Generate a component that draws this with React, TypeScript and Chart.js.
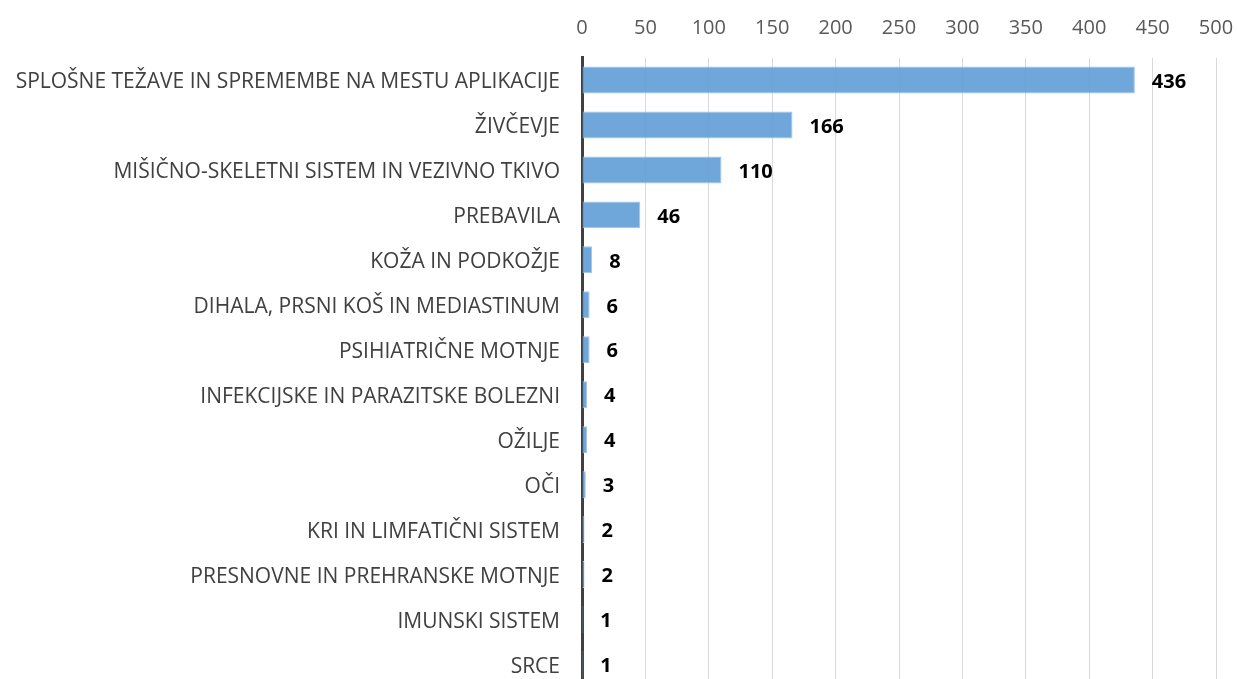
import React, { useEffect, useRef } from "react";
import { Chart, registerables } from "chart.js";

Chart.register(...registerables);

const categories = [
  "SPLOŠNE TEŽAVE IN SPREMEMBE NA MESTU APLIKACIJE",
  "ŽIVČEVJE",
  "MIŠIČNO-SKELETNI SISTEM IN VEZIVNO TKIVO",
  "PREBAVILA",
  "KOŽA IN PODKOŽJE",
  "DIHALA, PRSNI KOŠ IN MEDIASTINUM",
  "PSIHIATRIČNE MOTNJE",
  "INFEKCIJSKE IN PARAZITSKE BOLEZNI",
  "OŽILJE",
  "OČI",
  "KRI IN LIMFATIČNI SISTEM",
  "PRESNOVNE IN PREHRANSKE MOTNJE",
  "IMUNSKI SISTEM",
  "SRCE",
];
const values = [436, 166, 110, 46, 8, 6, 6, 4, 4, 3, 2, 2, 1, 1];
const xMin = 0;
const xMax = 500;
const xStep = 50;

const FONT = "'Open Sans', 'Liberation Sans', sans-serif";

const valueLabels = {
  id: "valueLabels",
  afterDatasetsDraw(chart: any) {
    const ctx = chart.ctx;
    const meta = chart.getDatasetMeta(0);
    ctx.save();
    ctx.font = `bold 20px ${FONT}`;
    ctx.fillStyle = "#000000";
    ctx.textAlign = "left";
    ctx.textBaseline = "middle";
    meta.data.forEach((bar: any, i: number) => {
      ctx.fillText(String(values[i]), bar.x + 17, bar.y + 2);
    });
    ctx.restore();
  },
};

export default function App() {
  const ref = useRef<HTMLCanvasElement | null>(null);
  useEffect(() => {
    if (!ref.current) return;
    const chart = new Chart(ref.current, {
      type: "bar",
      data: {
        labels: categories,
        datasets: [
          {
            data: values,
            backgroundColor: "rgba(100,160,216,0.92)",
            borderColor: "rgba(160,198,234,1)",
            borderWidth: 1,
            barPercentage: 0.6,
            categoryPercentage: 1,
          },
        ],
      },
      plugins: [valueLabels],
      options: {
        indexAxis: "y",
        animation: false,
        responsive: false,
        maintainAspectRatio: false,
        layout: { padding: { left: 0, right: 21, top: 0, bottom: 0 } },
        plugins: { legend: { display: false }, tooltip: { enabled: false } },
        scales: {
          x: {
            position: "top",
            min: xMin,
            max: xMax,
            ticks: {
              stepSize: xStep,
              color: "#595959",
              font: { family: FONT, size: 20 },
              padding: 17,
            },
            grid: { color: "#d9d9d9", lineWidth: 1, drawTicks: false },
            border: { display: false },
            afterFit(scale: any) {
              scale.height = 57.5;
              scale.paddingLeft = 0;
              scale.paddingRight = 0;
            },
          },
          y: {
            ticks: {
              color: "#404040",
              font: { family: FONT, size: 21 },
              padding: 22,
              labelOffset: 2,
              autoSkip: false,
            },
            grid: { display: false, drawTicks: false },
            border: { display: true, color: "#404040", width: 3 },
            afterFit(scale: any) {
              scale.width = 582;
              scale.paddingTop = 0;
              scale.paddingBottom = 0;
            },
          },
        },
      },
    });
    return () => chart.destroy();
  }, []);
  return (
    <div
      style={{
        position: "fixed",
        left: 0,
        top: 0,
        width: 1237,
        height: 687,
        background: "#ffffff",
      }}
    >
      <canvas ref={ref} width={1237} height={687} style={{ display: "block" }} />
    </div>
  );
}
